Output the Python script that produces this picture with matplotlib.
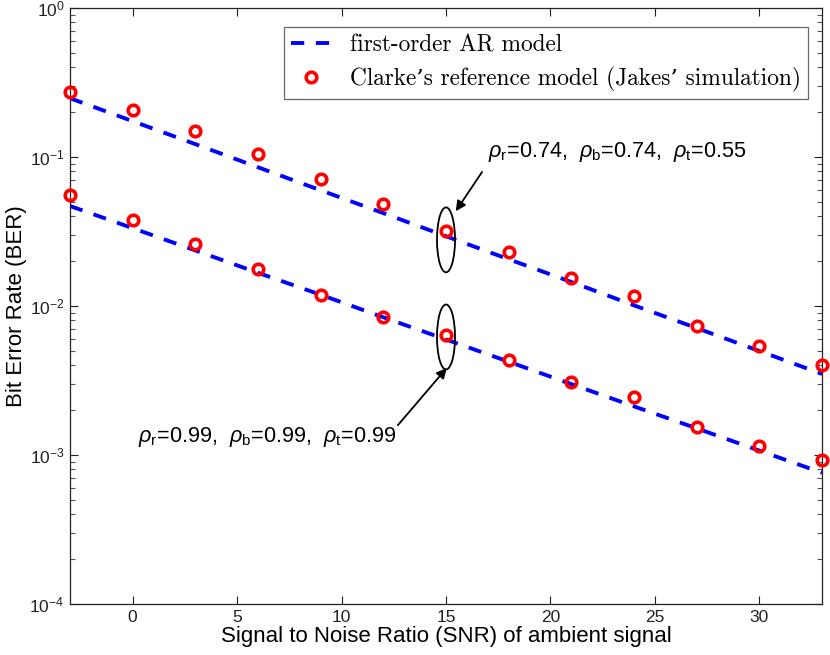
import numpy as np
import matplotlib
matplotlib.use("Agg")
import matplotlib.pyplot as plt
from matplotlib.patches import Ellipse
from matplotlib.ticker import LogLocator, NullFormatter

snr = [-3, 0, 3, 6, 9, 12, 15, 18, 21, 24, 27, 30, 33]
# first-order AR model (dashed lines)
ar_low_corr = [0.248, 0.174, 0.122, 0.0853, 0.0598, 0.0420, 0.0294, 0.0206, 0.0145, 0.0101, 0.00711, 0.00499, 0.00350]
ar_high_corr = [0.0469, 0.0333, 0.0236, 0.0167, 0.0119, 0.00840, 0.00596, 0.00423, 0.00299, 0.00212, 0.00151, 0.00107, 0.00076]
# Clarke's reference model (circles)
cl_low_corr = [0.273, 0.207, 0.149, 0.105, 0.0711, 0.0484, 0.0318, 0.0230, 0.0154, 0.0117, 0.00734, 0.00540, 0.00402]
cl_high_corr = [0.0556, 0.0378, 0.0261, 0.0177, 0.0119, 0.00843, 0.00639, 0.00434, 0.00309, 0.00245, 0.00154, 0.00115, 0.000925]

label_ar = "first-order AR model"
label_cl = "Clarke\u2019s reference model (Jakes\u2019 simulation)"
txt_low = r"$\rho_\mathrm{r}$=0.74,  $\rho_\mathrm{b}$=0.74,  $\rho_\mathrm{t}$=0.55"
txt_high = r"$\rho_\mathrm{r}$=0.99,  $\rho_\mathrm{b}$=0.99,  $\rho_\mathrm{t}$=0.99"

plt.rcParams['font.family'] = ['Liberation Sans', 'DejaVu Sans']
plt.rcParams['mathtext.fontset'] = 'custom'
plt.rcParams['mathtext.rm'] = 'Liberation Sans'
plt.rcParams['mathtext.it'] = 'Liberation Sans:italic'

fig = plt.figure(figsize=(8.3, 6.55), dpi=100)
ax = fig.add_axes([70/830, 1-604/655, 752/830, 596/655])

dash = (0, (3.4, 3.0))
ax.plot(snr, ar_low_corr, ls=dash, color='#0000ff', lw=2.8, label=label_ar, zorder=2)
ax.plot(snr, ar_high_corr, ls=dash, color='#0000ff', lw=2.8, zorder=2)
ax.plot(snr, cl_low_corr, 'o', mfc='none', mec='#ff0000', mew=2.6, ms=7.6, label=label_cl, zorder=3, clip_on=False)
ax.plot(snr, cl_high_corr, 'o', mfc='none', mec='#ff0000', mew=2.6, ms=7.6, zorder=3, clip_on=False)

ax.set_yscale('log')
ax.set_xlim(-3, 33)
ax.set_ylim(1e-4, 1)
ax.set_xticks([0, 5, 10, 15, 20, 25, 30])
ax.yaxis.set_major_locator(LogLocator(base=10, numticks=10))
ax.yaxis.set_minor_locator(LogLocator(base=10, subs=np.arange(2, 10), numticks=10))
ax.yaxis.set_minor_formatter(NullFormatter())
ax.tick_params(which='both', direction='in', top=True, right=True, labelsize=12.5, colors='#222222')
ax.tick_params(which='major', length=6, width=0.8, pad=4)
ax.tick_params(which='minor', length=3.8, width=0.8, color='#555555')
for s in ax.spines.values():
    s.set_linewidth(0.9)
    s.set_color('#222222')

ax.set_xlabel("Signal to Noise Ratio (SNR) of ambient signal", fontsize=16, labelpad=1)
ax.set_ylabel("Bit Error Rate (BER)", fontsize=16, labelpad=2)

leg = ax.legend(loc='upper right', bbox_to_anchor=(0.981, 0.968), borderaxespad=0,
                prop={'family': ['cmr10', 'DejaVu Serif'], 'size': 16.8},
                frameon=True, fancybox=False, edgecolor='#444444', handlelength=1.76,
                borderpad=0.3, labelspacing=0.45, handletextpad=0.77)
leg.get_frame().set_linewidth(0.9)

# ellipses at SNR = 15 (axes coordinates)
ax.add_patch(Ellipse((0.5, 0.611), 0.024, 0.109, transform=ax.transAxes, fill=False, ec='black', lw=1.3, zorder=4))
ax.add_patch(Ellipse((0.5, 0.448), 0.024, 0.109, transform=ax.transAxes, fill=False, ec='black', lw=1.3, zorder=4))

ax.annotate("", xy=(0.513, 0.659), xycoords='axes fraction', xytext=(0.548, 0.725),
            arrowprops=dict(arrowstyle='-|>', color='black', lw=1.3, mutation_scale=15, shrinkA=0, shrinkB=0))
ax.annotate("", xy=(0.501, 0.396), xycoords='axes fraction', xytext=(0.436, 0.300),
            arrowprops=dict(arrowstyle='-|>', color='black', lw=1.3, mutation_scale=15, shrinkA=0, shrinkB=0))
ax.text(0.556, 0.758, txt_low, transform=ax.transAxes, fontsize=15.6, va='center', ha='left')
ax.text(0.090, 0.280, txt_high, transform=ax.transAxes, fontsize=15.6, va='center', ha='left')

fig.savefig("out.png", dpi=100)
